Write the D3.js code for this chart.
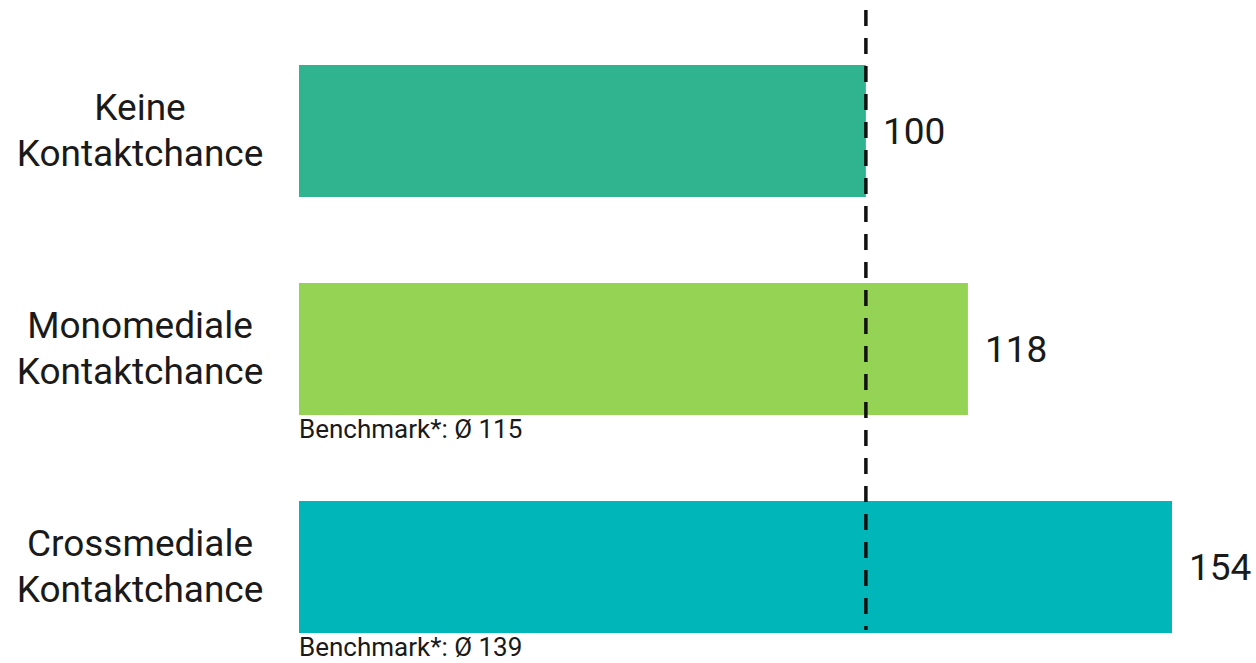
<!DOCTYPE html>
<html lang="de">
<head>
  <meta charset="UTF-8" />
  <title>Kontaktchance Index</title>
  <script src="https://cdn.jsdelivr.net/npm/d3@7"></script>
  <style>
    html, body { margin: 0; padding: 0; background: #fff; overflow: hidden; }
    svg { display: block; font-family: Roboto, "Noto Sans", sans-serif; }
  </style>
</head>
<body>
  <script>
    // chart data
    const categories = [
      ["Keine", "Kontaktchance"],
      ["Monomediale", "Kontaktchance"],
      ["Crossmediale", "Kontaktchance"]
    ];
    const values = [100, 118, 154];
    const colors = ["#30b38f", "#95d354", "#00b6b8"];
    const benchmarks = [null, "Benchmark*: Ø 115", "Benchmark*: Ø 139"];
    const referenceValue = 100;

    const width = 1256, height = 663;
    const svg = d3.select("body").append("svg")
      .attr("width", width)
      .attr("height", height);

    // x: 0 at the bar start, 100 sits on the dashed line
    const x = d3.scaleLinear().domain([0, 154]).range([299, 1172]);

    // 132px bars on a 218px step
    const y = d3.scaleBand()
      .domain(d3.range(values.length))
      .range([65, 633])
      .paddingInner(86 / 218)
      .paddingOuter(0);

    // bars
    svg.selectAll("rect.bar")
      .data(values)
      .join("rect")
        .attr("class", "bar")
        .attr("x", x(0))
        .attr("y", (d, i) => y(i))
        .attr("width", d => x(d) - x(0))
        .attr("height", y.bandwidth())
        .attr("fill", (d, i) => colors[i]);

    // value labels
    svg.selectAll("text.value")
      .data(values)
      .join("text")
        .attr("class", "value")
        .attr("x", d => x(d) + 17)
        .attr("y", (d, i) => y(i) + y.bandwidth() / 2 + 13)
        .attr("font-size", 37)
        .attr("fill", "#1a1a1a")
        .text(d => d);

    // category labels (two lines)
    const cat = svg.selectAll("text.cat")
      .data(categories)
      .join("text")
        .attr("class", "cat")
        .attr("text-anchor", "middle")
        .attr("font-size", 37)
        .attr("fill", "#1a1a1a")
        .attr("x", 140)
        .attr("y", (d, i) => y(i) + y.bandwidth() / 2 - 11);
    cat.selectAll("tspan")
      .data(d => d)
      .join("tspan")
        .attr("x", 140)
        .attr("dy", (d, j) => j === 0 ? 0 : 46)
        .text(d => d);

    // benchmark notes under bars
    svg.selectAll("text.bench")
      .data(benchmarks)
      .join("text")
        .attr("class", "bench")
        .attr("x", x(0))
        .attr("y", (d, i) => y(i) + y.bandwidth() + 23)
        .attr("font-size", 26)
        .attr("fill", "#1a1a1a")
        .text(d => d || "");

    // dashed reference line at 100
    svg.append("line")
      .attr("x1", x(referenceValue))
      .attr("x2", x(referenceValue))
      .attr("y1", 10)
      .attr("y2", 630)
      .attr("stroke", "#111")
      .attr("stroke-width", 3.5)
      .attr("stroke-dasharray", "16,12");
  </script>
</body>
</html>
